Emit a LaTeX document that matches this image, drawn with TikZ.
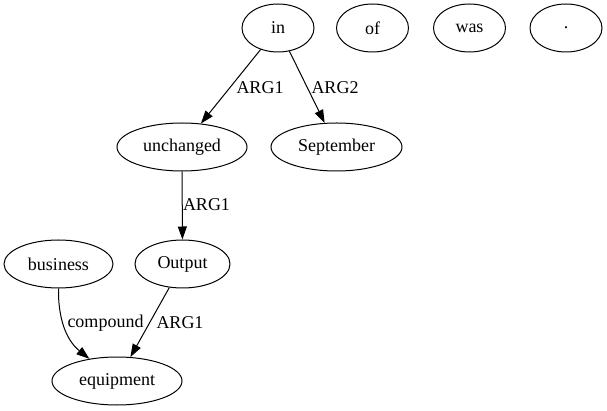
\documentclass[tikz,border=0pt]{standalone}
\usepackage{fontspec}
\setmainfont{Liberation Serif}
\usetikzlibrary{shapes.geometric,arrows.meta}
\begin{document}
\begin{tikzpicture}[x=1pt,y=-1pt,
  nd/.style={ellipse,draw,line width=1pt,inner sep=0pt,minimum height=48pt,font=\fontsize{18}{20}\selectfont},
  lbl/.style={inner sep=0pt,font=\fontsize{18}{20}\selectfont},
  edge/.style={line width=1pt,-{Triangle[length=13pt,width=9pt]}}]
\useasboundingbox (0,0) rectangle (607,411);
\node[nd,minimum width=72pt] (in) at (278,28) {in};
\node[nd,minimum width=72pt] (of) at (372.5,28) {of};
\node[nd,minimum width=72pt] (was) at (469.5,28) {was};
\node[nd,minimum width=72pt] (dot) at (566,28) {.};
\node[nd,minimum width=130pt] (unchanged) at (182,147) {unchanged};
\node[nd,minimum width=131pt] (september) at (336.5,147) {September};
\node[nd,minimum width=109pt] (business) at (58.5,264) {business};
\node[nd,minimum width=95pt] (output) at (182.5,264) {Output};
\node[nd,minimum width=130pt] (equipment) at (117,381) {equipment};
\draw[edge] (in) -- (unchanged);
\draw[edge] (in) -- (september);
\draw[edge] (unchanged) -- (output);
\draw[edge] (business.south) .. controls (58,318) and (66,340) .. (equipment);
\draw[edge] (output) -- (equipment);
\node[lbl] (l1) at (260,88) {ARG1};
\node[lbl] (l2) at (335,88) {ARG2};
\node[lbl] (l3) at (206.5,205) {ARG1};
\node[lbl] (l4) at (105.5,323) {compound};
\node[lbl] (l5) at (180,323) {ARG1};
\end{tikzpicture}
\end{document}
